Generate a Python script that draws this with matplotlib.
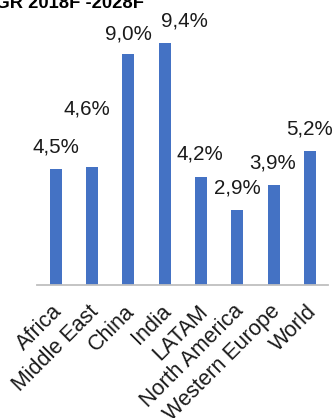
import matplotlib
matplotlib.use("Agg")
import matplotlib.pyplot as plt
import matplotlib.transforms as mtransforms

regions = ["Africa", "Middle East", "China", "India", "LATAM",
           "North America", "Western Europe", "World"]
cagr = [4.5, 4.6, 9.0, 9.4, 4.2, 2.9, 3.9, 5.2]
value_labels = ["4,5%", "4,6%", "9,0%", "9,4%", "4,2%", "2,9%", "3,9%", "5,2%"]
title_text = "CAGR 2018F -2028F"

# label offsets from the bar top (pixels): (dx, dy)
label_offsets = [(0, 22), (-5, 58), (0, 20), (20, 22), (-1, 23), (0, 22), (-1, 22), (0, 22)]

plt.rcParams["font.family"] = ["Liberation Sans", "DejaVu Sans"]

fig = plt.figure(figsize=(3.35, 4.18), dpi=100)
W, H = 335, 418
ax = fig.add_axes([37 / W, (H - 285) / H, (328 - 37) / W, 257 / H])

x = list(range(len(regions)))
ax.bar(x, cagr, width=0.33, color="#4472C4", zorder=2)

ax.set_xlim(-0.52, 7.5)
ax.set_ylim(0, 10)

for spine in ["top", "right", "left"]:
    ax.spines[spine].set_visible(False)
ax.spines["bottom"].set_color("#BFBFBF")
ax.spines["bottom"].set_linewidth(1.3)
ax.set_yticks([])
ax.set_xticks(x)
ax.set_xticklabels(regions, rotation=45, ha="right", rotation_mode="anchor",
                   fontsize=15.5, color="#1a1a1a")
ax.tick_params(axis="x", length=0, pad=10)
shift = mtransforms.ScaledTranslation(-4 / 100, -2 / 100, fig.dpi_scale_trans)
for t in ax.get_xticklabels():
    t.set_transform(t.get_transform() + shift)

px = 72 / 100
for xi, v, lab, (dx, dy) in zip(x, cagr, value_labels, label_offsets):
    ax.annotate(lab, (xi, v), xytext=(dx * px, dy * px), textcoords="offset points",
                ha="center", va="center", fontsize=14.8, color="#1a1a1a",
                annotation_clip=False)

fig.text(-31 / W, 1 - 8 / H, title_text, fontsize=13.2, fontweight="bold",
         ha="left", va="baseline", color="#000000")

fig.savefig("out.png", dpi=100)
